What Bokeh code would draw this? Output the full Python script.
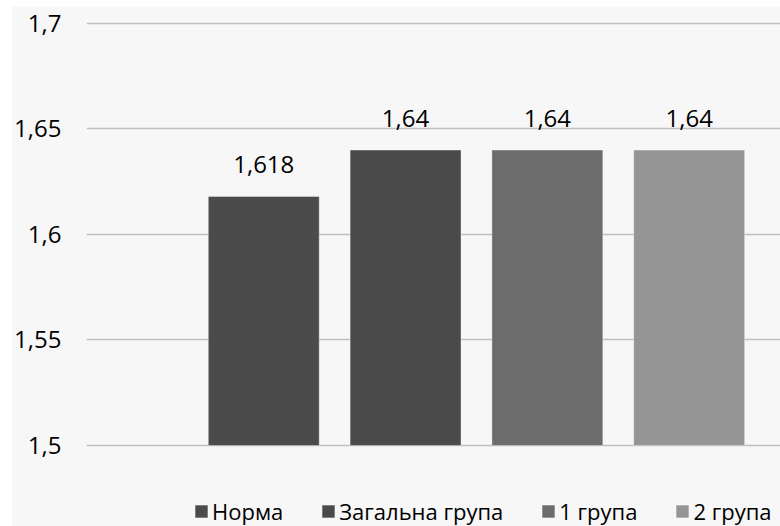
from bokeh.plotting import figure
from bokeh.models import ColumnDataSource, Range1d, FixedTicker, Legend, LegendItem
from bokeh.core.properties import value
from bokeh.embed import file_html
from bokeh.resources import INLINE

categories = ["Норма", "Загальна група", "1 група", "2 група"]
values = [1.618, 1.64, 1.64, 1.64]
colors = ["#4b4b4b", "#4a4a4a", "#6c6c6c", "#959595"]
y_ticks = [1.5, 1.55, 1.6, 1.65, 1.7]
y_tick_labels = ["1,5", "1,55", "1,6", "1,65", "1,7"]
value_labels = [str(v).replace(".", ",") for v in values]

FONT = "Open Sans"

src = ColumnDataSource(dict(
    x=list(range(len(categories))),
    top=values,
    name=categories,
    color=colors,
    label=value_labels,
))

p = figure(
    width=769, height=520,
    output_backend="svg", toolbar_location=None,
    x_range=Range1d(-1.25, 3.644),
    y_range=Range1d(1.46161, 1.70379),
    x_axis_location=None,
    min_border_left=74, min_border_right=0,
    min_border_top=9, min_border_bottom=0,
    background_fill_color="#f7f7f7", border_fill_color="#f7f7f7",
    outline_line_color=None,
    margin=(6, 0, 0, 11),
)

r = p.vbar(x="x", top="top", bottom=1.5, width=0.782, source=src,
           fill_color="color", line_color="#ffffff", line_alpha=0.35, line_width=1)

p.text(x="x", y="top", text="label", source=src,
       text_align="center", text_baseline="alphabetic", y_offset=-32,
       text_font=value(FONT), text_font_size="24px", text_color="#000000")

yax = p.yaxis[0]
yax.ticker = FixedTicker(ticks=y_ticks)
yax.major_label_overrides = {t: l for t, l in zip(y_ticks, y_tick_labels)}
yax.axis_line_color = None
yax.major_tick_line_color = None
yax.minor_tick_line_color = None
yax.major_tick_out = 0
yax.major_tick_in = 0
yax.major_label_standoff = 25
yax.major_label_text_font = FONT
yax.major_label_text_font_size = "24px"
yax.major_label_text_color = "#000000"

p.ygrid.ticker = FixedTicker(ticks=y_ticks)
p.ygrid.grid_line_color = "#c0c0c0"
p.ygrid.grid_line_width = 1.5
p.xgrid.grid_line_color = None

items = [LegendItem(label=c, renderers=[r], index=i) for i, c in enumerate(categories)]
legend = Legend(items=items, orientation="horizontal", location=(107, 0),
                glyph_width=16, glyph_height=16, label_standoff=3, spacing=37,
                padding=0, margin=0, border_line_color=None,
                background_fill_alpha=0,
                label_text_font=FONT, label_text_font_size="22px",
                label_text_color="#000000")
p.add_layout(legend, "center")

open("out.html", "w").write(file_html(p, INLINE))
